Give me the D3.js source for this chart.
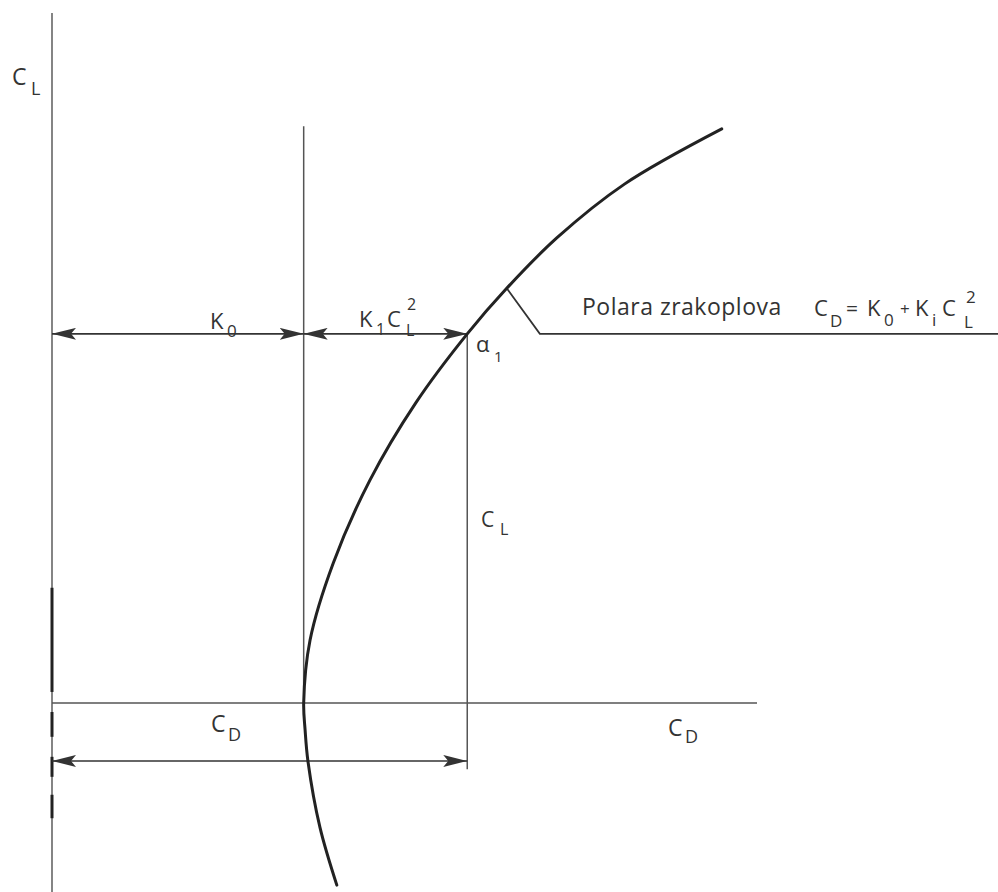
<!DOCTYPE html>
<html>
<head>
<meta charset="utf-8">
<script src="https://cdn.jsdelivr.net/npm/d3@7"></script>
<style>
  body { margin: 0; background: #fff; }
  text { font-family: "Open Sans", "Noto Sans", sans-serif; fill: #333; }
</style>
</head>
<body>
<div id="polar"></div>
<script>
// Drag polar sketch: CD = K0 + K1 CL^2
var svgWidth = 998;
var svgHeight = 892;

// curve points (CD, CL in axis units)
var polarCD = [0.404, 0.380, 0.363, 0.359, 0.357, 0.366, 0.399, 0.451, 0.516, 0.589, 0.645, 0.716, 0.812, 0.950];
var polarCL = [-0.264, -0.180, -0.084, -0.039, 0, 0.091, 0.203, 0.323, 0.435, 0.535, 0.601, 0.674, 0.752, 0.832];

// K0 line and the point alpha1
var k0 = 0.357;
var k0Top = 0.836;
var alphaCD = 0.589;
var alphaCL = 0.535;
var alphaBottom = -0.096;   // vertical CL line runs down to here
var cdArrowCL = -0.084;     // level of the bottom CD dimension arrow

// leader from the curve to the formula
var leaderCD = [0.645, 0.692, 1.342];
var leaderCL = [0.601, 0.535, 0.535];

// axis extents
var xAxisEnd = 1.0;
var yAxisTop = 1.0;
var yAxisBottom = -0.274;

// heavier bits on the CL axis (scan marks)
var axisMarks = [[0.167, 0.016], [-0.013, -0.049], [-0.078, -0.107], [-0.133, -0.167]];

var svg = d3.select("#polar")
  .append("svg")
  .attr("width", svgWidth)
  .attr("height", svgHeight);

var x = d3.scaleLinear().domain([0, 1]).range([52, 757]);
var y = d3.scaleLinear().domain([0, 1]).range([703, 13]);

// arrow heads
var defs = svg.append("defs");
defs.append("marker")
  .attr("id", "head")
  .attr("viewBox", "0 0 24 12")
  .attr("refX", 24)
  .attr("refY", 6)
  .attr("markerWidth", 24)
  .attr("markerHeight", 12)
  .attr("markerUnits", "userSpaceOnUse")
  .attr("orient", "auto-start-reverse")
  .append("path")
  .attr("d", "M0,0 L24,6 L0,12 L5,6 Z")
  .attr("fill", "#333");

function seg(x1, y1, x2, y2, w, col) {
  return svg.append("line")
    .attr("x1", x(x1)).attr("y1", y(y1))
    .attr("x2", x(x2)).attr("y2", y(y2))
    .attr("stroke", col || "#555")
    .attr("stroke-width", w || 1.5);
}

// axes
seg(0, yAxisTop, 0, yAxisBottom, 1.6, "#666");
seg(0, 0, xAxisEnd, 0, 1.6, "#555");
axisMarks.forEach(function(m) {
  seg(0, m[0], 0, m[1], 3, "#222");
});

// K0 vertical and CL vertical
seg(k0, k0Top, k0, 0, 1.5, "#555");
seg(alphaCD, alphaCL, alphaCD, alphaBottom, 1.5, "#555");

// dimension arrows
function dimArrow(a, b, cl) {
  seg(a, cl, b, cl, 1.6, "#333")
    .attr("marker-start", "url(#head)")
    .attr("marker-end", "url(#head)");
}
dimArrow(0, k0, alphaCL);
dimArrow(k0, alphaCD, alphaCL);
dimArrow(0, alphaCD, cdArrowCL);

// leader line to the formula
var leaderLine = d3.line()
  .x(function(d) { return x(d[0]); })
  .y(function(d) { return y(d[1]); });
svg.append("path")
  .attr("d", leaderLine(d3.zip(leaderCD, leaderCL)))
  .attr("fill", "none")
  .attr("stroke", "#333")
  .attr("stroke-width", 1.8);

// the polar
var polarLine = d3.line()
  .x(function(d) { return x(d[0]); })
  .y(function(d) { return y(d[1]); })
  .curve(d3.curveCatmullRom.alpha(0.5));
svg.append("path")
  .attr("d", polarLine(d3.zip(polarCD, polarCL)))
  .attr("fill", "none")
  .attr("stroke", "#222")
  .attr("stroke-width", 3)
  .attr("stroke-linecap", "round");

// labels: text, x, baseline, size
function put(t, px, py, size) {
  return svg.append("text")
    .attr("x", px).attr("y", py)
    .attr("font-size", size)
    .text(t);
}

// C_L at the top of the axis
put("C", 12, 85, 23);
put("L", 31, 95, 18);

// K0
put("K", 210, 329, 22);
put("0", 227, 337, 17);

// K1 CL^2
put("K", 359, 327, 22);
put("1", 376, 335, 16);
put("C", 387, 327, 22);
put("L", 406, 336, 16);
put("2", 407, 310, 16);

// alpha1
put("\u03b1", 476, 352, 22);
put("1", 494, 362, 15);

// CL beside the vertical
put("C", 481, 527, 21);
put("L", 500, 535, 16);

// CD under the axis
put("C", 211, 732, 23);
put("D", 228, 741, 18);
put("C", 668, 736, 23);
put("D", 685, 743, 18);

// formula text
put("Polara zrakoplova", 582, 315, 23).attr("letter-spacing", 0.5);
put("C", 814, 316, 22);
put("D", 830, 327, 17);
put("=", 846, 316, 21);
put("K", 867, 316, 22);
put("0", 884, 326, 17);
put("+", 900, 315, 17);
put("K", 915, 316, 22);
put("i", 932, 326, 17);
put("C", 942, 316, 22);
put("L", 964, 328, 17);
put("2", 966, 303, 17);
</script>
</body>
</html>
